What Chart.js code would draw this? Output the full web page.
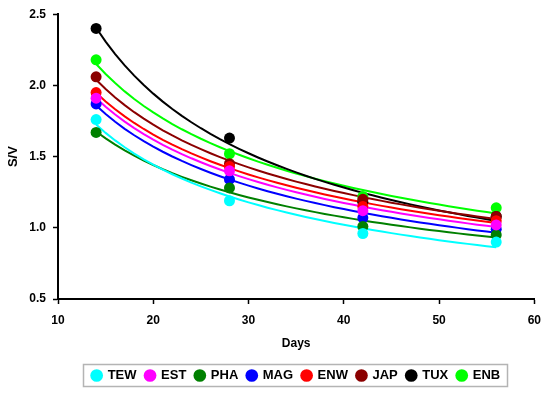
<!DOCTYPE html>
<html>
<head>
<meta charset="utf-8">
<script src="https://cdn.jsdelivr.net/npm/chart.js@4/dist/chart.umd.min.js"></script>
<style>
  html, body { margin: 0; padding: 0; background: #fff; }
  #wrap { width: 550px; height: 393px; }
</style>
</head>
<body>
<div id="wrap"><canvas id="sv-chart" width="550" height="393"></canvas></div>
<script>
const days = [14, 28, 42, 56];
const names = ["TEW", "EST", "PHA", "MAG", "ENW", "JAP", "TUX", "ENB"];
const colors = ["#00ffff", "#ff00ff", "#008000", "#0000ff", "#ff0000", "#8b0000", "#000000", "#00ff00"];

const tew = [1.76, 1.19, 0.96, 0.90];
const est = [1.91, 1.40, 1.12, 1.02];
const pha = [1.67, 1.28, 1.01, 0.95];
const mag = [1.87, 1.34, 1.07, 0.99];
const enw = [1.95, 1.43, 1.15, 1.05];
const jap = [2.06, 1.45, 1.20, 1.08];
const tux = [2.40, 1.63, 1.18, 1.08];
const enb = [2.18, 1.52, 1.22, 1.14];
const series = [tew, est, pha, mag, enw, jap, tux, enb];

const xTicks = [10, 20, 30, 40, 50, 60];
const yTicks = [0.5, 1.0, 1.5, 2.0, 2.5];

// power trendline (like excel): ln y = ln a + b ln x
function powerFit(xs, ys) {
    const n = xs.length;
    let sx = 0, sy = 0, sxx = 0, sxy = 0;
    for (let i = 0; i < n; i++) {
        const lx = Math.log(xs[i]), ly = Math.log(ys[i]);
        sx += lx; sy += ly; sxx += lx * lx; sxy += lx * ly;
    }
    const b = (n * sxy - sx * sy) / (n * sxx - sx * sx);
    const a = Math.exp((sy - b * sx) / n);
    const pts = [];
    for (let x = days[0]; x <= days[n - 1]; x += 1) pts.push({x: x, y: a * Math.pow(x, b)});
    return pts;
}

const datasets = [];
series.forEach((vals, i) => {
    datasets.push({
        label: names[i],
        data: days.map((d, j) => ({x: d, y: vals[j]})),
        backgroundColor: colors[i],
        borderColor: colors[i],
        pointRadius: 5.5,
        pointHoverRadius: 5.5,
        pointBorderWidth: 0,
        showLine: false,
        order: 1
    });
});
series.forEach((vals, i) => {
    datasets.push({
        label: names[i] + "_trend",
        data: powerFit(days, vals),
        borderColor: colors[i],
        backgroundColor: colors[i],
        borderWidth: 2,
        pointRadius: 0,
        showLine: true,
        tension: 0,
        order: 2
    });
});

// grey frame round the legend items
const legendBox = {
    id: "legendBox",
    afterDraw(chart) {
        const hb = chart.legend.legendHitBoxes;
        if (!hb || !hb.length) return;
        const l = Math.min(...hb.map(b => b.left)) - 9;
        const r = Math.max(...hb.map(b => b.left + b.width)) + 7;
        const t = hb[0].top - 5;
        const bt = hb[0].top + hb[0].height + 4;
        const c = chart.ctx;
        c.save();
        c.strokeStyle = "#b4b4b4";
        c.lineWidth = 1.5;
        c.strokeRect(Math.round(l) + 0.5, Math.round(t) + 0.5, Math.round(r - l), Math.round(bt - t));
        c.restore();
    }
};

const font = {family: "'Liberation Sans', Arial, sans-serif", size: 12, weight: "bold"};

new Chart(document.getElementById("sv-chart"), {
    type: "scatter",
    data: {datasets: datasets},
    plugins: [legendBox],
    options: {
        responsive: false,
        animation: false,
        layout: {padding: {left: 0, right: 15, top: 13, bottom: 1}},
        plugins: {
            tooltip: {enabled: false},
            legend: {
                position: "bottom",
                fullSize: false,
                labels: {
                    filter: item => !item.text.endsWith("_trend"),
                    usePointStyle: true,
                    pointStyle: "circle",
                    boxWidth: 9,
                    boxHeight: 9,
                    padding: 9,
                    color: "#000",
                    font: {family: font.family, size: 13, weight: "bold"}
                }
            }
        },
        scales: {
            x: {
                type: "linear",
                min: 10, max: 60,
                afterBuildTicks: s => { s.ticks = xTicks.map(v => ({value: v})); },
                afterFit: s => { s.height = 61; },
                ticks: {color: "#000", font: font, padding: 9},
                grid: {display: true, drawOnChartArea: false, color: "#000", tickLength: 5, tickWidth: 1.5},
                border: {color: "#000", width: 2},
                title: {display: true, text: "Days", color: "#000", font: font, padding: {top: 0, bottom: 9}}
            },
            y: {
                type: "linear",
                min: 0.5, max: 2.5,
                afterBuildTicks: s => { s.ticks = yTicks.map(v => ({value: v})); },
                afterFit: s => { s.width = 58; },
                ticks: {color: "#000", font: font, padding: 7, callback: v => v.toFixed(1)},
                grid: {display: true, drawOnChartArea: false, color: "#000", tickLength: 5, tickWidth: 1.5},
                border: {color: "#000", width: 2},
                title: {display: true, text: "S/V", color: "#000", font: {family: font.family, size: 13, weight: "bold"}, padding: {top: 6, bottom: 0}}
            }
        }
    }
});
</script>
</body>
</html>
